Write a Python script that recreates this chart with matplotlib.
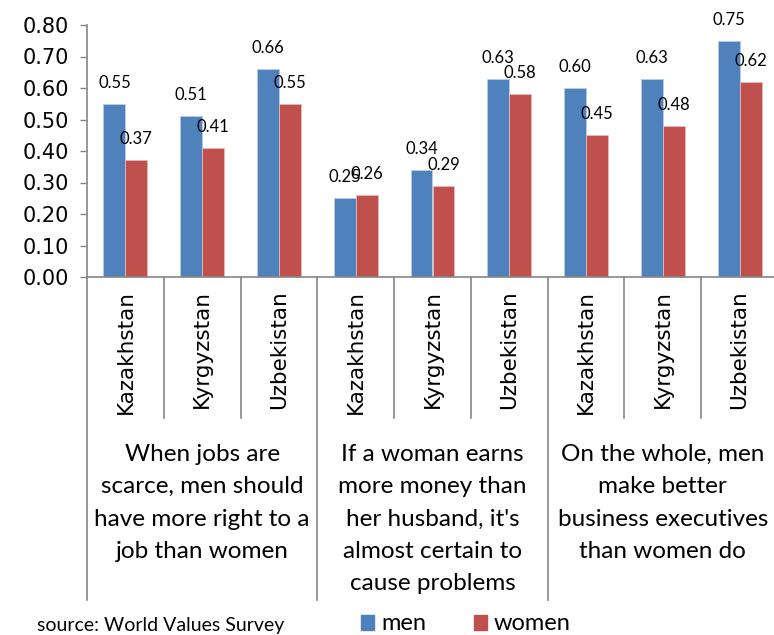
import matplotlib
matplotlib.use("Agg")
import matplotlib.pyplot as plt
from matplotlib.patches import Rectangle
import numpy as np

# data
countries = ["Kazakhstan", "Kyrgyzstan", "Uzbekistan"] * 3
questions = [
    "When jobs are\nscarce, men should\nhave more right to a\njob than women",
    "If a woman earns\nmore money than\nher husband, it's\nalmost certain to\ncause problems",
    "On the whole, men\nmake better\nbusiness executives\nthan women do",
]
men = [0.55, 0.51, 0.66, 0.25, 0.34, 0.63, 0.60, 0.63, 0.75]
women = [0.37, 0.41, 0.55, 0.26, 0.29, 0.58, 0.45, 0.48, 0.62]
series_names = ["men", "women"]
yticks = [0.0, 0.1, 0.2, 0.3, 0.4, 0.5, 0.6, 0.7, 0.8]

BLUE = "#4F81BD"
RED = "#C0504D"
GREY = "#868686"
NARROW = "Lato"

W, H = 774, 635
fig = plt.figure(figsize=(W / 100, H / 100), dpi=100)
# axes box in pixels: x 87..778, y 25..277
ax = fig.add_axes([87 / W, (H - 277) / H, 691 / W, 252 / H])

x = np.arange(len(men))
bw = 0.286
ax.bar(x + 0.5 - bw / 2, men, bw, color=BLUE, edgecolor="#B9CDE5", linewidth=0.6)
ax.bar(x + 0.5 + bw / 2, women, bw, color=RED, edgecolor="#E6B9B8", linewidth=0.6)

# value labels (the 0.25 / 0.26 pair overlaps in the original too)
for i in range(len(men)):
    ax.annotate(f"{men[i]:.2f}", (x[i] + 0.5 - bw / 2, men[i]), xytext=(0, 11.5),
                textcoords="offset points", ha="center", va="baseline",
                fontsize=12, family=NARROW)
    ax.annotate(f"{women[i]:.2f}", (x[i] + 0.5 + bw / 2, women[i]), xytext=(0, 11.5),
                textcoords="offset points", ha="center", va="baseline",
                fontsize=12, family=NARROW)

ax.set_xlim(0, 9)
ax.set_ylim(0, 0.8)
ax.set_yticks(yticks)
ax.set_yticklabels([f"{v:.2f}" for v in yticks], fontsize=15)
ax.tick_params(axis="y", length=5, width=1, color=GREY, pad=8)
ax.set_xticks([])
for s in ["top", "right"]:
    ax.spines[s].set_visible(False)
for s in ["left", "bottom"]:
    ax.spines[s].set_color(GREY)
    ax.spines[s].set_linewidth(1.2)

# separators below the axis
tr = ax.get_xaxis_transform()
for b in range(10):
    y_end = -1.282 if b % 3 == 0 else -0.56
    ax.plot([b, b], [0, y_end], color=GREY, lw=1.2, transform=tr, clip_on=False)

# country labels
for i, c in enumerate(countries):
    ax.text(i + 0.5, -0.052, c, rotation=90, ha="center", va="top",
            fontsize=15.5, transform=tr)

# question labels
for g, q in enumerate(questions):
    ax.text(3 * g + 1.5, -0.662, q, ha="center", va="top", multialignment="center",
            fontsize=17.5, family=NARROW, linespacing=1.67, transform=tr)

# source note
fig.text(37 / W, (H - 626) / H, "source: World Values Survey", ha="left",
         va="center", fontsize=14, family=NARROW)

# legend
for name, color, x0 in zip(series_names, [BLUE, RED], [361, 474]):
    fig.add_artist(Rectangle((x0 / W, (H - 630) / H), 13 / W, 15 / H,
                             transform=fig.transFigure, color=color))
    fig.text((x0 + 20) / W, (H - 623) / H, name, ha="left", va="center",
             fontsize=17, family=NARROW)

fig.savefig("out.png", dpi=100)
